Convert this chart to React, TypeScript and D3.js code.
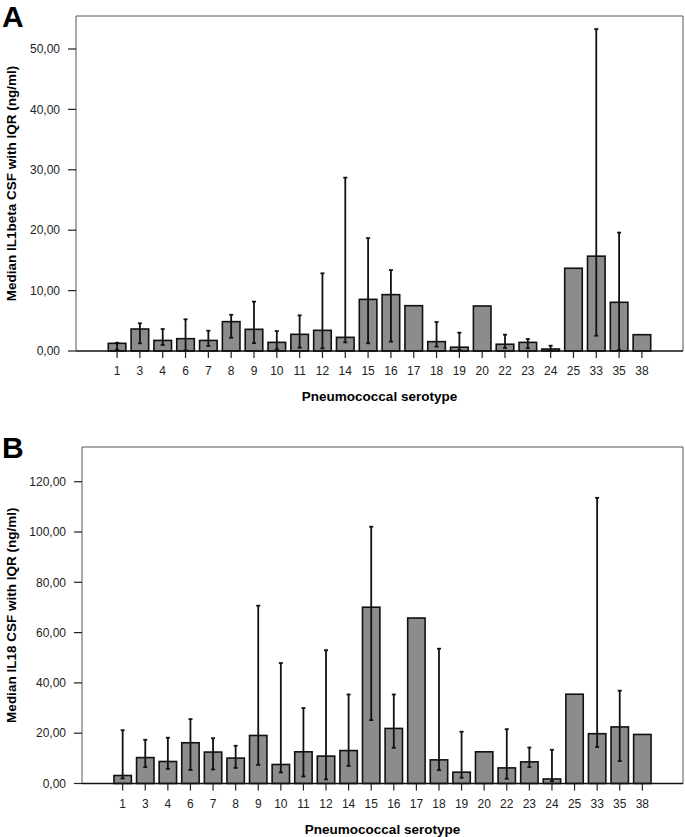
import React from "react";
import * as d3 from "d3";

const serotypes = ["1", "3", "4", "6", "7", "8", "9", "10", "11", "12", "14", "15", "16", "17", "18", "19", "20", "22", "23", "24", "25", "33", "35", "38"];

// panel A: IL1beta (ng/ml)
const il1Median = [1.27, 3.64, 1.75, 2.04, 1.75, 4.86, 3.59, 1.43, 2.76, 3.42, 2.26, 8.55, 9.33, 7.5, 1.55, 0.63, 7.45, 1.12, 1.43, 0.33, 13.7, 15.7, 8.06, 2.7];
const il1Q1 = [0.2, 1.27, 1.0, 0.1, 0.83, 2.2, 1.3, 0.28, 0.55, 0.44, 1.43, 1.27, 1.55, null, 0.72, 0.17, null, 0.5, 0.45, 0.05, null, 2.54, 0.17, null];
const il1Q3 = [1.37, 4.58, 3.64, 5.25, 3.36, 6.0, 8.17, 3.3, 5.9, 12.86, 28.7, 18.7, 13.4, null, 4.8, 3.03, null, 2.7, 1.99, 0.88, null, 53.3, 19.6, null];
const il1Ticks = [0, 10, 20, 30, 40, 50];

// panel B: IL18 (ng/ml)
const il18Median = [3.18, 10.3, 8.75, 16.2, 12.5, 10.1, 19.1, 7.56, 12.6, 10.9, 13.1, 70.1, 21.9, 65.8, 9.4, 4.5, 12.6, 6.2, 8.6, 1.8, 35.5, 19.8, 22.5, 19.5];
const il18Q1 = [2.0, 6.5, 5.8, 5.4, 5.6, 6.2, 7.4, 4.4, 2.8, 1.6, 7.0, 25.2, 14.2, null, 5.3, 2.27, null, 1.9, 6.5, 0.9, null, 14.5, 8.9, null];
const il18Q3 = [21.2, 17.4, 18.2, 25.6, 18.0, 15.0, 70.7, 47.9, 30.0, 53.0, 35.4, 102.1, 35.4, null, 53.6, 20.6, null, 21.6, 14.3, 13.4, null, 113.6, 36.9, null];
const il18Ticks = [0, 20, 40, 60, 80, 100, 120];

const fmt = d3.formatLocale({ decimal: ",", thousands: ".", grouping: [3], currency: ["", "€"] }).format(".2f");
const FONT = "Liberation Sans, Arial, Helvetica, sans-serif";

type PanelProps = {
  letter: string;
  yTitle: string;
  median: number[];
  q1: (number | null)[];
  q3: (number | null)[];
  ticks: number[];
  yMax: number;
  left: number;
  right: number;
  top: number;
  bottom: number;
};

const Panel = ({ letter, yTitle, median, q1, q3, ticks, yMax, left, right, top, bottom }: PanelProps) => {
  const x = d3.scalePoint<string>().domain(serotypes).range([left, right]).padding(1.8);
  const y = d3.scaleLinear().domain([0, yMax]).range([bottom, top]);
  const bw = x.step() * 0.77;
  const cap = 2;

  return (
    <g fontFamily={FONT}>
      <text x={2} y={top + 11} fontSize={30} fontWeight="bold">{letter}</text>
      {/* frame */}
      <path d={`M${left},${bottom}V${top}H${right}V${bottom}`} fill="none" stroke="#555" strokeWidth={1} />
      {/* y axis */}
      {ticks.map((t) => (
        <g key={t} transform={`translate(0,${y(t)})`}>
          <line x1={left - 8} x2={left} stroke="#222" strokeWidth={1.2} />
          <text x={left - 16} dy="0.35em" textAnchor="end" fontSize={12} fill="#222">{fmt(t)}</text>
        </g>
      ))}
      <text
        transform={`translate(16,${(top + bottom) / 2}) rotate(-90)`}
        textAnchor="middle"
        fontSize={13.5}
        fontWeight="bold"
      >
        {yTitle}
      </text>
      {/* bars */}
      {serotypes.map((s, i) => (
        <rect
          key={s}
          x={x(s)! - bw / 2}
          y={y(median[i])}
          width={bw}
          height={y(0) - y(median[i])}
          fill="#8c8c8c"
          stroke="#111"
          strokeWidth={1.6}
        />
      ))}
      {/* IQR whiskers */}
      {serotypes.map((s, i) => {
        const lo = q1[i];
        const hi = q3[i];
        if (lo == null || hi == null) return null;
        const cx = x(s)!;
        return (
          <g key={s} stroke="#111" strokeWidth={1.8}>
            <line x1={cx} x2={cx} y1={y(lo)} y2={y(hi)} />
            <line x1={cx - cap} x2={cx + cap} y1={y(hi)} y2={y(hi)} />
            <line x1={cx - cap} x2={cx + cap} y1={y(lo)} y2={y(lo)} />
          </g>
        );
      })}
      {/* x axis */}
      <line x1={left} x2={right} y1={bottom} y2={bottom} stroke="#111" strokeWidth={1.4} />
      {serotypes.map((s) => (
        <g key={s} transform={`translate(${x(s)},${bottom})`}>
          <line y1={0} y2={7} stroke="#222" strokeWidth={1.2} />
          <text y={24} textAnchor="middle" fontSize={12} fill="#222">{s}</text>
        </g>
      ))}
      <text x={(left + right) / 2} y={bottom + 50} textAnchor="middle" fontSize={13.5} fontWeight="bold">
        Pneumococcal serotype
      </text>
    </g>
  );
};

export default function App() {
  return (
    <svg width={685} height={837} style={{ position: "absolute", left: 0, top: 0, background: "#fff" }}>
      <Panel
        letter="A"
        yTitle="Median IL1beta CSF with IQR (ng/ml)"
        median={il1Median}
        q1={il1Q1}
        q3={il1Q3}
        ticks={il1Ticks}
        yMax={55.46}
        left={76}
        right={683}
        top={16}
        bottom={351}
      />
      <Panel
        letter="B"
        yTitle="Median IL18 CSF with IQR (ng/ml)"
        median={il18Median}
        q1={il18Q1}
        q3={il18Q3}
        ticks={il18Ticks}
        yMax={133.8}
        left={82}
        right={683}
        top={447}
        bottom={783.5}
      />
    </svg>
  );
}
